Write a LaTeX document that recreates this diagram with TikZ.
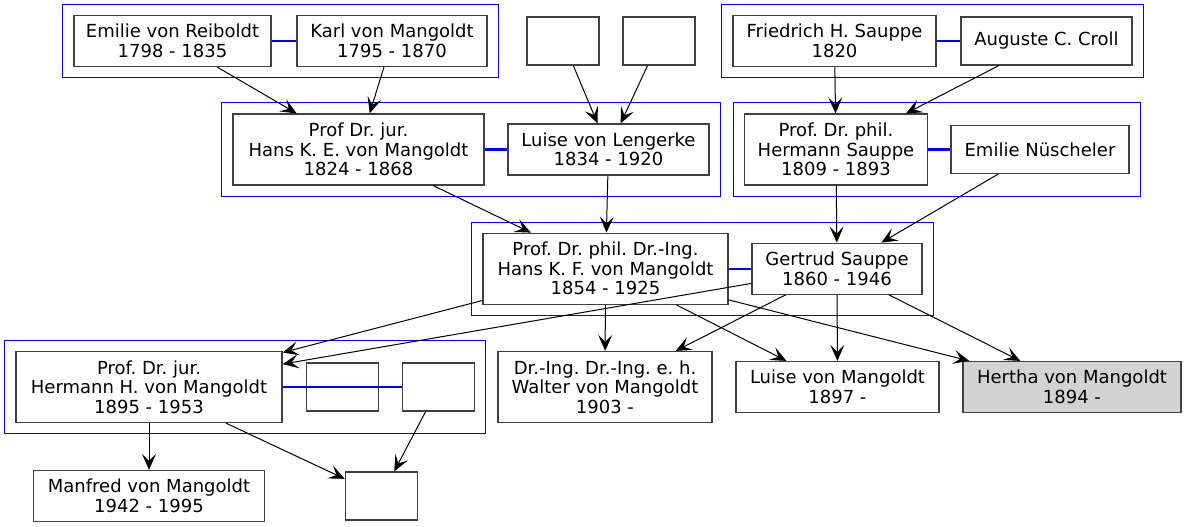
\documentclass[tikz,border=0pt]{standalone}
\usepackage{fontspec}
\setmainfont{DejaVu Sans}
\usetikzlibrary{arrows.meta,fit}
\definecolor{fillgray}{HTML}{D3D3D3}

\tikzset{
  person/.style 2 args={draw=black!75, line width=1.2pt, fill=white, align=center,
    inner sep=0pt, minimum width=#1, minimum height=#2,
    font=\fontsize{18}{19.5}\selectfont\frenchspacing},
  blank/.style={person={72pt}{48pt}},
  family/.style={draw=blue, line width=1pt, inner sep=10.5pt},
  marriage/.style={blue, line width=2.4pt},
  descent/.style={->, >={Stealth[length=16pt,width=14pt,inset=7pt]}, line width=1pt}
}

\begin{document}
\begin{tikzpicture}[x=1pt,y=-1pt]
\useasboundingbox (0,0) rectangle (1186,527);
\node (reiboldt) at (172.5,41) [person={197pt}{51pt}] {Emilie von Reiboldt\\1798 - 1835};
\node (karl) at (392,41) [person={190pt}{51pt}] {Karl von Mangoldt\\1795 - 1870};
\node (blank1) at (563,41) [blank] {};
\node (blank2) at (659,41) [blank] {};
\node (friedrich) at (834.5,41) [person={203pt}{51pt}] {Friedrich H. Sauppe\\1820};
\node (croll) at (1046.5,41) [person={171pt}{48pt}] {Auguste C. Croll};
\node (hansE) at (358.5,149.5) [person={251pt}{71pt}] {Prof Dr. jur.\\Hans K. E. von Mangoldt\\1824 - 1868};
\node (lengerke) at (608.5,149.5) [person={201pt}{51pt}] {Luise von Lengerke\\1834 - 1920};
\node (hermannS) at (836,149.5) [person={183pt}{71pt}] {Prof. Dr. phil.\\Hermann Sauppe\\1809 - 1893};
\node (nuescheler) at (1040,149.5) [person={178pt}{48pt}] {Emilie Nüscheler};
\node (hansF) at (605.5,268.7) [person={245pt}{71pt}] {Prof. Dr. phil. Dr.-Ing.\\Hans K. F. von Mangoldt\\1854 - 1925};
\node (gertrud) at (837,268.7) [person={170pt}{51pt}] {Gertrud Sauppe\\1860 - 1946};
\node (hermannH) at (149,387) [person={266pt}{71pt}] {Prof. Dr. jur.\\Hermann H. von Mangoldt\\1895 - 1953};
\node (blank3) at (342.7,387) [blank] {};
\node (blank4) at (438.5,387) [blank] {};
\node (walter) at (605,387) [person={214pt}{71pt}] {Dr.-Ing. Dr.-Ing. e. h.\\Walter von Mangoldt\\1903 -};
\node (luiseM) at (837.5,387) [person={203pt}{51pt}] {Luise von Mangoldt\\1897 -};
\node (hertha) at (1072,387) [person={218pt}{51pt}, fill=fillgray] {Hertha von Mangoldt\\1894 -};
\node (manfred) at (149,496) [person={231pt}{51pt}] {Manfred von Mangoldt\\1942 - 1995};
\node (blank5) at (381.3,496) [blank] {};

\node (fam1) [family, fit=(reiboldt)(karl)] {};
\node (fam2) [family, fit=(friedrich)(croll)] {};
\node (fam3) [family, fit=(hansE)(lengerke)] {};
\node (fam4) [family, fit=(hermannS)(nuescheler)] {};
\node (fam5) [family, fit=(hansF)(gertrud)] {};
\node (fam6) [family, fit=(hermannH)(blank4)] {};

\draw [marriage] (reiboldt) -- (karl);
\draw [marriage] (friedrich) -- (croll);
\draw [marriage] (hansE) -- (lengerke);
\draw [marriage] (hermannS) -- (nuescheler);
\draw [marriage] (hansF) -- (gertrud);
\draw [marriage] (hermannH) -- (blank4);

\draw [descent] (reiboldt) -- (hansE);
\draw [descent] (karl) -- (hansE);
\draw [descent] (blank1) -- (lengerke);
\draw [descent] (blank2) -- (lengerke);
\draw [descent] (friedrich) -- (hermannS);
\draw [descent] (croll) -- (hermannS);
\draw [descent] (hansE) -- (hansF);
\draw [descent] (lengerke) -- (hansF);
\draw [descent] (hermannS) -- (gertrud);
\draw [descent] (nuescheler) -- (gertrud);
\draw [descent] (hansF) -- (hermannH);
\draw [descent] (gertrud) -- (hermannH);
\draw [descent] (hansF) -- (walter);
\draw [descent] (gertrud) -- (walter);
\draw [descent] (hansF) -- (luiseM);
\draw [descent] (gertrud) -- (luiseM);
\draw [descent] (hansF) -- (hertha);
\draw [descent] (gertrud) -- (hertha);
\draw [descent] (hermannH) -- (manfred);
\draw [descent] (hermannH) -- (blank5);
\draw [descent] (blank4) -- (blank5);
\end{tikzpicture}
\end{document}
